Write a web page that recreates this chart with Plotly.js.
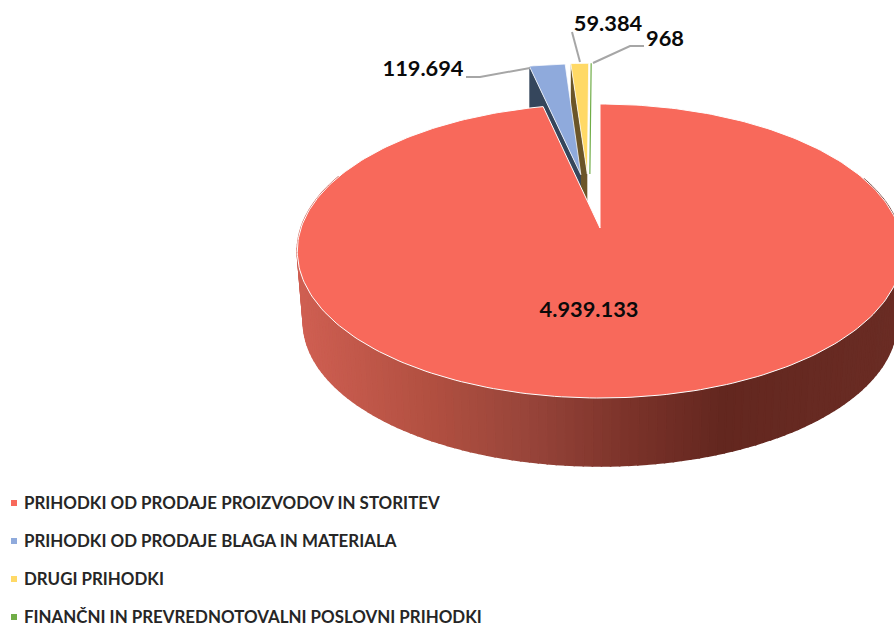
<!DOCTYPE html>
<html><head><meta charset="utf-8">
<script src="https://cdn.plot.ly/plotly-3.0.1.min.js"></script>
<style>html,body{margin:0;padding:0;background:#fff}#c{width:894px;height:625px}</style>
</head><body><div id="c"></div>
<script>
// ---- data ----
const categories = [
  "PRIHODKI OD PRODAJE PROIZVODOV IN STORITEV",
  "PRIHODKI OD PRODAJE BLAGA IN MATERIALA",
  "DRUGI PRIHODKI",
  "FINANČNI IN PREVREDNOTOVALNI POSLOVNI PRIHODKI"
];
const values = [4939133, 119694, 59384, 968];
const valueLabels = ["4.939.133", "119.694", "59.384", "968"];

// ---- styles ----
const topColors  = ["#f8695b", "#8faadc", "#ffd966", "#70ad47"];
const sideColors = ["#7a3229", "#35465c", "#6b5528", "#3f6128"];
const shadeStops = [[300,[207,95,82]],[436,[176,79,64]],[530,[151,68,58]],[632,[122,50,41]],[722,[99,39,31]],[894,[106,44,36]]];
const explodeU = [0, -0.068, -0.045, -0.036];
const explodeV = [0, 0.395, 0.40, 0.40];
const labelX = [589, 423, 608, 665];
const labelY = [312, 71, 26, 41];
const legendY = [503, 541, 579, 617];
const legendTextY = [504.5, 542.5, 580.5, 618.5];

// ---- perspective projection of the pie's disc into axis units ----
const cx = 600, cy = 228, A = 299, B = 143.4, K = 0.1565, D = 71.4, S = 0.98;
function proj(u, v, depth) {
  const w = 1 + K * v;
  let X = cx + A * u / w, Y = cy - B * v / w;
  if (depth) { X = cx + S * (X - cx); Y = cy + S * (Y - cy) + D; }
  return [X, Y];
}
const total = values.reduce((a, b) => a + b, 0);
let run = 0;
const slices = values.map((v, i) => {
  const s = { a0: run / total * 2 * Math.PI };
  run += v;
  s.a1 = run / total * 2 * Math.PI;
  s.u0 = explodeU[i]; s.v0 = explodeV[i];
  return s;
});
function topPoly(s) {
  const xs = [], ys = [];
  let p = proj(s.u0, s.v0); xs.push(p[0]); ys.push(p[1]);
  const n = Math.max(2, Math.ceil((s.a1 - s.a0) / 0.02));
  for (let j = 0; j <= n; j++) {
    const t = s.a0 + (s.a1 - s.a0) * j / n;
    p = proj(s.u0 + Math.sin(t), s.v0 + Math.cos(t));
    xs.push(p[0]); ys.push(p[1]);
  }
  p = proj(s.u0, s.v0); xs.push(p[0]); ys.push(p[1]);
  return [xs, ys];
}
function facePoly(s) {
  const r = proj(s.u0 + Math.sin(s.a0), s.v0 + Math.cos(s.a0));
  const c = proj(s.u0, s.v0);
  const rd = [r[0], r[1] + D], cd = [c[0], c[1] + D];
  return [[r[0], c[0], cd[0], rd[0], r[0]], [r[1], c[1], cd[1], rd[1], r[1]]];
}
function shade(x) {
  for (let i = 0; i < shadeStops.length - 1; i++) {
    const a = shadeStops[i], b = shadeStops[i + 1];
    if (x <= b[0]) {
      const f = Math.max(0, (x - a[0]) / (b[0] - a[0]));
      return "rgb(" + a[1].map((c, k) => Math.round(c + (b[1][k] - c) * f)).join(",") + ")";
    }
  }
  return "rgb(106,44,36)";
}
function poly(xy, fill, line, lw) {
  return { type: "scatter", mode: "lines", x: xy[0], y: xy[1], fill: "toself", fillcolor: fill,
           line: { color: line, width: lw }, hoverinfo: "skip", showlegend: false };
}
const traces = [];
// exploded slices: side faces then tops
traces.push(poly(facePoly(slices[2]), sideColors[2], sideColors[2], 0));
traces.push(poly(topPoly(slices[2]), topColors[2], "#ffffff", 0.75));
traces.push(poly(facePoly(slices[1]), sideColors[1], sideColors[1], 0));
traces.push(poly(topPoly(slices[1]), topColors[1], "#ffffff", 0.75));
traces.push(poly(topPoly(slices[3]), topColors[3], topColors[3], 1.2));
// outer wall of the large slice
const step = 1.5 * Math.PI / 180;
for (let t = 1.2; t < 2 * Math.PI - 1.2; t += step) {
  const a = proj(Math.sin(t), Math.cos(t)), b = proj(Math.sin(t + step), Math.cos(t + step));
  const ad = proj(Math.sin(t), Math.cos(t), 1), bd = proj(Math.sin(t + step), Math.cos(t + step), 1);
  const col = shade((a[0] + b[0] + ad[0] + bd[0]) / 4);
  traces.push(poly([[a[0], b[0], bd[0], ad[0], a[0]], [a[1], b[1], bd[1], ad[1], a[1]]], col, col, 1.6));
}
// top of the large slice
traces.push(poly(topPoly(slices[0]), topColors[0], "#ffffff", 1));
// value labels
traces.push({ type: "scatter", mode: "text", x: labelX, y: labelY, text: valueLabels,
  textposition: "middle center", cliponaxis: false, hoverinfo: "skip", showlegend: false,
  textfont: { family: "Lato, 'Open Sans', sans-serif", size: 21.8, color: "#0a0a0a", weight: 700 } });
// legend
traces.push({ type: "scatter", mode: "markers", x: legendY.map(() => 14), y: legendY,
  marker: { symbol: "square", size: 6, color: topColors }, hoverinfo: "skip", showlegend: false });
traces.push({ type: "scatter", mode: "text", x: legendY.map(() => 24), y: legendTextY, text: categories,
  textposition: "middle right", cliponaxis: false, hoverinfo: "skip", showlegend: false,
  textfont: { family: "Lato, 'Open Sans', sans-serif", size: 16.9, color: "#262626", weight: 700 } });

const lead = "#a6a6a6";
const leader = p => ({ type: "path", path: p, line: { color: lead, width: 2 }, layer: "above" });
const layout = {
  width: 894, height: 625, margin: { l: 0, r: 0, t: 0, b: 0 },
  paper_bgcolor: "#ffffff", plot_bgcolor: "#ffffff", showlegend: false,
  xaxis: { range: [0, 894], visible: false, fixedrange: true },
  yaxis: { range: [625, 0], visible: false, fixedrange: true },
  shapes: [
    leader("M466,77 L480,77 L530,68"),
    leader("M572,32 L580,62"),
    leader("M593,63 L630,46 L644,46")
  ]
};
Plotly.newPlot("c", traces, layout, { displayModeBar: false, staticPlot: true });
</script></body></html>
